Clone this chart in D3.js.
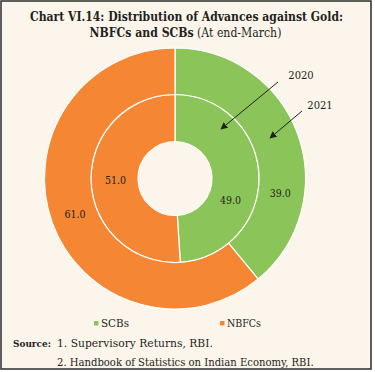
<!DOCTYPE html>
<html><head><meta charset="utf-8">
<script src="https://cdn.jsdelivr.net/npm/d3@7"></script>
<style>
html,body{margin:0;padding:0;background:#fff;}
svg{display:block;}
</style></head>
<body>
<script>
// ---- data ----
const categories = ["SCBs", "NBFCs"];
const years = ["2020", "2021"];
const values2020 = [49.0, 51.0];   // inner ring
const values2021 = [39.0, 61.0];   // outer ring
const titleLine1 = "Chart VI.14: Distribution of Advances against Gold:";
const titleLine2Bold = "NBFCs and SCBs";
const titleLine2Normal = " (At end-March)";
const sourceLabel = "Source:";
const sourceLines = ["1. Supervisory Returns, RBI.", "2. Handbook of Statistics on Indian Economy, RBI."];

// ---- layout ----
const W = 375, H = 372;
const cx = 175, cy = 178.5;
const rHole = 37, rMid = 84, rOuter = 130.5;
const colors = {SCBs: "#8bc55a", NBFCs: "#f58634"};
const bg = "#fcf5eb";
const ink = "#231f20";
const serif = "'DejaVu Serif Condensed','DejaVu Serif',serif";

// scale a text's font size so its width matches a target width
function fit(sel, target) {
  const len = sel.node().getComputedTextLength();
  const fs = parseFloat(sel.attr("font-size"));
  if (len > 0) sel.attr("font-size", (fs * target / len).toFixed(2));
  return sel;
}

const svg = d3.select("body").append("svg").attr("width", W).attr("height", H);
svg.append("rect").attr("x", 1).attr("y", 1).attr("width", 370).attr("height", 368)
  .attr("fill", bg).attr("stroke", "#2b2b2b").attr("stroke-width", 1.5);

// title
const t1 = svg.append("text").attr("x", 186.5).attr("y", 21).attr("text-anchor", "middle")
  .attr("font-family", serif).attr("font-size", 12.5).attr("font-weight", "bold").attr("fill", ink)
  .text(titleLine1);
fit(t1, 313);
const t2 = svg.append("text").attr("x", 185.5).attr("y", 37).attr("text-anchor", "middle")
  .attr("font-family", serif).attr("font-size", 12.5).attr("fill", ink);
t2.append("tspan").attr("font-weight", "bold").text(titleLine2Bold);
t2.append("tspan").attr("font-weight", "normal").text(titleLine2Normal);
fit(t2, 192);

const g = svg.append("g").attr("transform", `translate(${cx},${cy})`);
const pie = d3.pie().sort(null).value(d => d.v);
const rings = [
  {year: years[0], vals: values2020, r0: rHole, r1: rMid, labelShift: [0.40, 0]},
  {year: years[1], vals: values2021, r0: rMid, r1: rOuter, labelShift: [0.49, 0]}
];
rings.forEach(ring => {
  const data = pie(categories.map((c, i) => ({c, v: ring.vals[i]})));
  const arc = d3.arc().innerRadius(ring.r0).outerRadius(ring.r1);
  g.selectAll(null).data(data).enter().append("path")
    .attr("d", arc).attr("fill", d => colors[d.data.c])
    .attr("stroke", "#ffffff").attr("stroke-width", 1.2);
  const mid = (ring.r0 + ring.r1) / 2 - 1;
  g.selectAll(null).data(data).enter().append("text")
    .attr("transform", (d, i) => {
      const a = (d.startAngle + d.endAngle) / 2 + ring.labelShift[i];
      return `translate(${mid * Math.sin(a)},${-mid * Math.cos(a)})`;
    })
    .attr("text-anchor", "middle").attr("dy", "0.35em")
    .attr("font-family", serif).attr("font-size", 10.5).attr("fill", ink)
    .text(d => d3.format(".1f")(d.data.v));
});
// hole
g.append("circle").attr("r", rHole - 0.6).attr("fill", bg);

// arrows (annotations)
const defs = svg.append("defs");
defs.append("marker").attr("id", "ah").attr("viewBox", "0 0 10 10").attr("refX", 9).attr("refY", 5)
  .attr("markerWidth", 7).attr("markerHeight", 7).attr("markerUnits", "userSpaceOnUse")
  .attr("orient", "auto")
  .append("path").attr("d", "M0,0 L10,5 L0,10 z").attr("fill", ink);
const annots = [
  {label: years[0], x1: 278, y1: 82, x2: 221, y2: 129, tx: 301, ty: 79},
  {label: years[1], x1: 302, y1: 111, x2: 270, y2: 138, tx: 320, ty: 108.5}
];
annots.forEach(a => {
  svg.append("line").attr("x1", a.x1).attr("y1", a.y1).attr("x2", a.x2).attr("y2", a.y2)
    .attr("stroke", ink).attr("stroke-width", 1).attr("marker-end", "url(#ah)");
  const t = svg.append("text").attr("x", a.tx).attr("y", a.ty).attr("text-anchor", "middle")
    .attr("font-family", serif).attr("font-size", 10.5).attr("fill", ink).text(a.label);
  fit(t, 25.5);
});

// legend
const legX = [94, 220];
const legW = [28, 34];
categories.forEach((c, i) => {
  svg.append("rect").attr("x", legX[i]).attr("y", 321).attr("width", 4.5).attr("height", 4.5).attr("fill", colors[c]);
  const t = svg.append("text").attr("x", legX[i] + 7).attr("y", 327).attr("font-family", serif)
    .attr("font-size", 10.5).attr("fill", ink).text(c);
  fit(t, legW[i]);
});

// source
const s0 = svg.append("text").attr("x", 13).attr("y", 347).attr("font-family", serif).attr("font-size", 10)
  .attr("font-weight", "bold").attr("fill", ink).text(sourceLabel);
fit(s0, 38);
const srcW = [156, 257];
sourceLines.forEach((s, i) => {
  const t = svg.append("text").attr("x", 57).attr("y", 347 + i * 18.5).attr("font-family", serif).attr("font-size", 10)
    .attr("fill", ink).text(s);
  fit(t, srcW[i]);
});
</script>
</body></html>
